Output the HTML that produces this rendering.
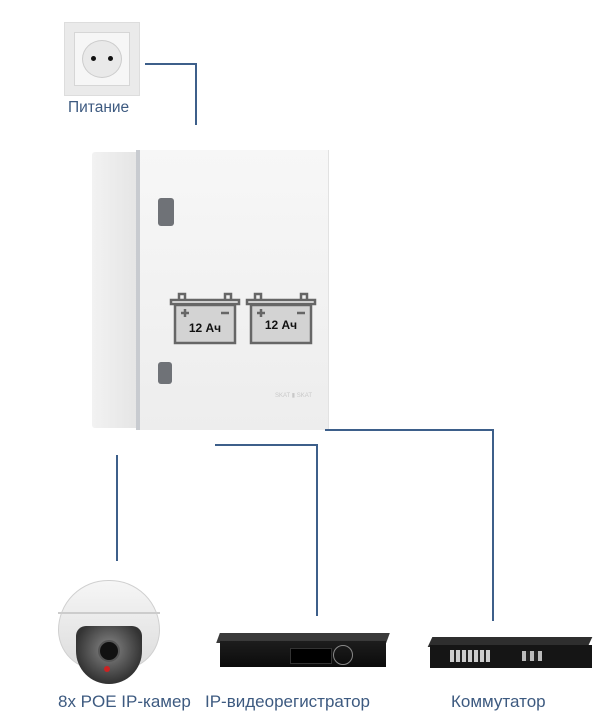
<!DOCTYPE html>
<html><head><meta charset="utf-8"><style>
body{margin:0;width:600px;height:717px;background:#fff;position:relative;overflow:hidden;font-family:"Liberation Sans","DejaVu Sans",sans-serif}
.a{position:absolute}
.l{position:absolute;background:#3d5f8a}
.t{position:absolute;color:#3d5a80;white-space:nowrap}
</style></head><body>
<!-- socket -->
<div class="a" style="left:64px;top:22px;width:76px;height:74px;background:#eaeaea;border:1px solid #ddd;box-sizing:border-box"></div>
<div class="a" style="left:74px;top:32px;width:56px;height:54px;background:#f6f6f6;border:1px solid #d6d6d6;box-sizing:border-box"></div>
<div class="a" style="left:82px;top:40px;width:40px;height:38px;border-radius:50%;background:#e9e9e9;border:1px solid #ccc;box-sizing:border-box"></div>
<div class="a" style="left:91px;top:56px;width:5px;height:5px;border-radius:50%;background:#111"></div>
<div class="a" style="left:108px;top:56px;width:5px;height:5px;border-radius:50%;background:#111"></div>
<div class="t" style="left:68px;top:99px;font-size:15.5px">Питание</div>
<div class="l" style="left:145px;top:63px;width:52px;height:2px"></div>
<div class="l" style="left:195px;top:63px;width:2px;height:62px"></div>
<!-- cabinet -->
<div class="a" style="left:92px;top:152px;width:48px;height:276px;background:linear-gradient(90deg,#f2f2f2,#e4e4e4);border-radius:3px 0 0 3px"></div>
<div class="a" style="left:136px;top:150px;width:4px;height:280px;background:#c8cbd0"></div>
<div class="a" style="left:140px;top:150px;width:188px;height:280px;background:linear-gradient(180deg,#f7f7f7,#ededed);border-right:1px solid #e2e2e2"></div>
<div class="a" style="left:158px;top:198px;width:16px;height:28px;background:#6f7277;border-radius:3px"></div>
<div class="a" style="left:158px;top:362px;width:14px;height:22px;background:#6f7277;border-radius:3px"></div>
<div class="a" style="left:275px;top:392px;font-size:6px;color:#c8c8c8">SKAT ▮ SKAT</div>
<!-- batteries -->
<svg class="a" style="left:168px;top:284px" width="154" height="62">
<g fill="none" stroke="#666" stroke-width="2.5">
<path d="M3 16h68v4H3z M11 16v-6h6v6 M57 16v-6h6v6"/>
<rect x="7" y="21" width="60" height="38" fill="#d3d3d3"/>
<path d="M79 16h68v4H79z M87 16v-6h6v6 M133 16v-6h6v6"/>
<rect x="83" y="21" width="60" height="38" fill="#d3d3d3"/>
<path d="M13 29h8M17 25v8M53 29h8M89 29h8M93 25v8M129 29h8"/>
</g>
<text x="37" y="48" font-size="12" font-weight="bold" text-anchor="middle" fill="#111" font-family="Liberation Sans">12 Ач</text>
<text x="113" y="45" font-size="12" font-weight="bold" text-anchor="middle" fill="#111" font-family="Liberation Sans">12 Ач</text>
</svg>
<!-- connectors -->
<div class="l" style="left:116px;top:455px;width:2px;height:106px"></div>
<div class="l" style="left:215px;top:444px;width:103px;height:2px"></div>
<div class="l" style="left:316px;top:444px;width:2px;height:172px"></div>
<div class="l" style="left:325px;top:429px;width:169px;height:2px"></div>
<div class="l" style="left:492px;top:429px;width:2px;height:192px"></div>
<!-- camera -->
<div class="a" style="left:58px;top:580px;width:102px;height:90px;border-radius:50px 50px 40px 40px;background:linear-gradient(180deg,#f6f6f6,#dcdcdc);border:1px solid #d0d0d0;box-sizing:border-box"></div>
<div class="a" style="left:58px;top:612px;width:102px;height:2px;background:#ccc"></div>
<div class="a" style="left:76px;top:626px;width:66px;height:58px;border-radius:10px 10px 33px 33px;background:radial-gradient(circle at 50% 40%,#888,#333 70%)"></div>
<div class="a" style="left:98px;top:640px;width:18px;height:18px;border-radius:50%;background:#111;border:2px solid #555"></div>
<div class="a" style="left:104px;top:666px;width:6px;height:6px;border-radius:50%;background:#c22"></div>
<!-- recorder -->
<div class="a" style="left:218px;top:633px;width:170px;height:10px;background:#3a3a3a;transform:skewX(-20deg)"></div>
<div class="a" style="left:220px;top:641px;width:166px;height:26px;background:linear-gradient(180deg,#1d1d1d,#0b0b0b)"></div>
<div class="a" style="left:290px;top:648px;width:40px;height:14px;background:#000;border:1px solid #333"></div>
<div class="a" style="left:333px;top:645px;width:18px;height:18px;border-radius:50%;border:1px solid #888"></div>
<!-- switch -->
<div class="a" style="left:430px;top:637px;width:160px;height:10px;background:#2e2e2e;transform:skewX(-25deg)"></div>
<div class="a" style="left:430px;top:645px;width:162px;height:23px;background:#151515"></div>
<div class="a" style="left:450px;top:650px;width:40px;height:12px;background:repeating-linear-gradient(90deg,#ccc 0 4px,#222 4px 6px)"></div>
<div class="a" style="left:522px;top:651px;width:20px;height:10px;background:repeating-linear-gradient(90deg,#bbb 0 4px,#222 4px 8px)"></div>
<!-- labels -->
<div class="t" style="left:58px;top:692px;font-size:17px">8x POE IP-камер</div>
<div class="t" style="left:205px;top:692px;font-size:17px">IP-видеорегистратор</div>
<div class="t" style="left:451px;top:692px;font-size:17px">Коммутатор</div>
</body></html>
